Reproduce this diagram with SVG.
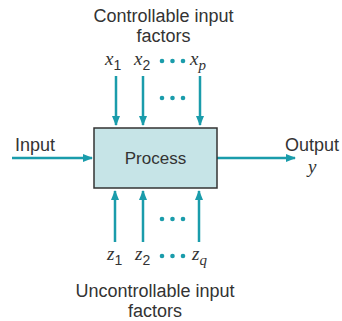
<svg xmlns="http://www.w3.org/2000/svg" width="342" height="321" viewBox="0 0 342 321">
<style>
.lbl{font-family:"Liberation Sans",Arial,sans-serif;font-size:18px;fill:#333}
.var{font-family:"Liberation Serif","Times New Roman",serif;font-style:italic;font-size:19px;fill:#333}
.sub{font-family:"Liberation Sans",Arial,sans-serif;font-style:normal;font-size:14px}
.subi{font-family:"Liberation Serif","Times New Roman",serif;font-style:italic;font-size:15px}
.ln{stroke:#1a9cab;stroke-width:2.5;fill:none}
.dot{fill:#1a9cab}
</style>
<defs>
<marker id="ah" viewBox="0 0 10 10" refX="9" refY="5" markerWidth="4" markerHeight="4" orient="auto" markerUnits="strokeWidth">
<path d="M0,1 L10,5 L0,9 Z" fill="#1a9cab"/>
</marker>
</defs>
<rect width="342" height="321" fill="#fff"/>
<g id="connectors">
<line class="ln" x1="116" y1="76" x2="116" y2="125" marker-end="url(#ah)"/>
<line class="ln" x1="143" y1="76" x2="143" y2="125" marker-end="url(#ah)"/>
<line class="ln" x1="200" y1="76" x2="200" y2="125" marker-end="url(#ah)"/>
<line class="ln" x1="115" y1="242" x2="115" y2="191" marker-end="url(#ah)"/>
<line class="ln" x1="143" y1="242" x2="143" y2="191" marker-end="url(#ah)"/>
<line class="ln" x1="199" y1="242" x2="199" y2="191" marker-end="url(#ah)"/>
<line class="ln" x1="12" y1="158" x2="92" y2="158" marker-end="url(#ah)"/>
<line class="ln" x1="217" y1="158" x2="295" y2="158" marker-end="url(#ah)"/>
<g class="dot">
<circle cx="162" cy="61" r="2.3"/><circle cx="172.5" cy="61" r="2.3"/><circle cx="183" cy="61" r="2.3"/>
<circle cx="162" cy="98" r="2.3"/><circle cx="172.5" cy="98" r="2.3"/><circle cx="183" cy="98" r="2.3"/>
<circle cx="162" cy="219" r="2.3"/><circle cx="172.5" cy="219" r="2.3"/><circle cx="183" cy="219" r="2.3"/>
<circle cx="162" cy="256" r="2.3"/><circle cx="172.5" cy="256" r="2.3"/><circle cx="183" cy="256" r="2.3"/>
</g>
</g>
<g id="process">
<rect x="94" y="128" width="123" height="60" fill="#c6e4e7" stroke="#333" stroke-width="1.5"/>
<text class="lbl" x="155.5" y="164" text-anchor="middle" style="font-size:17px">Process</text>
</g>
<g id="controllable">
<text class="lbl" x="163.5" y="22" text-anchor="middle">Controllable input</text>
<text class="lbl" x="163.5" y="42" text-anchor="middle">factors</text>
<text class="var" x="105" y="65">x<tspan class="sub" dy="5">1</tspan></text>
<text class="var" x="134" y="65">x<tspan class="sub" dy="5">2</tspan></text>
<text class="var" x="190" y="65">x<tspan class="subi" dy="5">p</tspan></text>
</g>
<g id="uncontrollable">
<text class="lbl" x="155" y="297" text-anchor="middle">Uncontrollable input</text>
<text class="lbl" x="155" y="317" text-anchor="middle">factors</text>
<text class="var" x="107" y="260">z<tspan class="sub" dy="5">1</tspan></text>
<text class="var" x="135" y="260">z<tspan class="sub" dy="5">2</tspan></text>
<text class="var" x="192" y="260">z<tspan class="subi" dy="5">q</tspan></text>
</g>
<g id="input">
<text class="lbl" x="15" y="151">Input</text>
</g>
<g id="output">
<text class="lbl" x="285" y="151">Output</text>
<text class="var" x="308" y="173">y</text>
</g>
</svg>
